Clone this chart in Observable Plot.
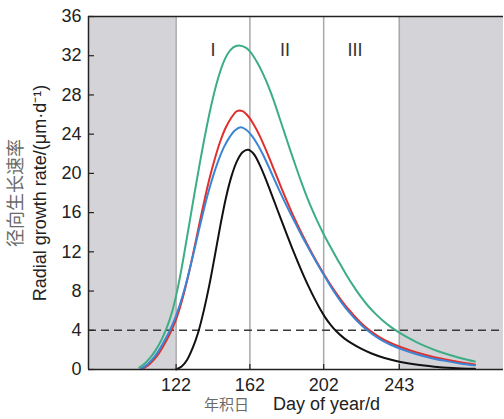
<!DOCTYPE html>
<html>
<head>
<meta charset="utf-8">
<script src="https://cdn.jsdelivr.net/npm/d3@7"></script>
<script src="https://cdn.jsdelivr.net/npm/@observablehq/plot@0.6"></script>
<style>
  html, body { margin: 0; padding: 0; background: #fff; }
</style>
</head>
<body>
<div id="chart"></div>
<script>
// ---- data ----
const xDomain = [74.5, 299.5];
const yDomain = [0, 36];
const yTicks = [0, 4, 8, 12, 16, 20, 24, 28, 32, 36];
const xTicks = [122, 162, 202, 243];
const stageBounds = [122, 162, 202, 243];
const stageNames = ["I", "II", "III"];
const stageLabelDays = [142, 181, 219];
const threshold = 4;

const seriesNames = ["s1", "s2", "s3", "s4"];
const seriesColors = ["#3dae84", "#e0302e", "#3a85d5", "#111111"];

const greenDays = [102,105,108,111,114,117,120,123,126,129,132,135,138,141,144,147,150,153,156,160,163,166,169,172,175,178,181,184,187,190,193,196,199,202,206,210,214,218,222,226,230,234,238,242,246,252,258,264,270,277,284];
const greenVals = [0.2,0.6,1.2,2.0,3.0,4.3,6.0,8.4,11.4,14.7,18.0,21.2,24.2,26.9,29.2,31.0,32.2,32.85,33.05,32.8,32.2,31.3,30.2,28.9,27.4,25.7,24.0,22.3,20.65,19.05,17.55,16.2,14.95,13.8,12.4,11.05,9.75,8.55,7.45,6.5,5.7,5.0,4.4,3.88,3.42,2.82,2.3,1.86,1.5,1.13,0.82];

const redDays = [104,107,110,113,116,119,122,125,128,131,134,137,140,143,146,149,152,155,158,161,164,167,170,173,176,179,182,185,188,191,194,197,200,203,206,210,214,218,222,226,232,238,244,252,260,268,276,284];
const redVals = [0.1,0.45,1.0,1.75,2.7,3.8,5.1,6.9,9.1,11.6,14.3,16.95,19.4,21.5,23.3,24.7,25.7,26.35,26.35,25.85,25.0,23.95,22.7,21.35,19.95,18.55,17.2,15.9,14.7,13.55,12.45,11.4,10.4,9.45,8.55,7.45,6.45,5.6,4.8,4.12,3.33,2.73,2.27,1.76,1.35,1.02,0.73,0.5];

const blueDays = [103,106,109,112,115,118,121,124,127,130,133,136,139,142,145,148,151,154,157,160,163,166,169,172,175,178,181,184,187,190,193,196,199,202,205,208,212,216,220,226,232,238,244,252,260,268,276,284];
const blueVals = [0.1,0.45,1.0,1.75,2.7,3.75,5.0,6.6,8.5,10.7,13.1,15.5,17.75,19.7,21.35,22.7,23.7,24.4,24.7,24.45,23.85,23.0,21.95,20.75,19.5,18.25,17.05,15.9,14.8,13.7,12.65,11.63,10.63,9.68,8.72,7.83,6.75,5.8,4.98,3.95,3.15,2.55,2.08,1.58,1.18,0.88,0.62,0.42];

const blackDays = [122,125,128,131,134,137,140,143,146,149,152,155,158,161,164,167,170,173,176,179,182,185,188,191,194,197,200,203,206,209,213,217,222,228,235,243,252,262,272,284];
const blackVals = [0,0.3,1.0,2.2,3.8,6.0,8.6,11.6,14.7,17.5,19.7,21.25,22.15,22.4,22.0,21.0,19.7,18.25,16.75,15.25,13.77,12.33,10.95,9.63,8.4,7.25,6.2,5.27,4.5,3.87,3.2,2.68,2.15,1.63,1.17,0.8,0.5,0.29,0.16,0.07];

const yTitleZh = "径向生长速率";
const yTitleEn = "Radial growth rate/(μm·d⁻¹)";
const xTitleZh = "年积日";
const xTitleEn = "Day of year/d";

// ---- build tables ----
const rows = [];
function addSeries(name, days, vals) {
  days.forEach((d, i) => rows.push({series: name, day: d, rate: vals[i]}));
}
addSeries("s1", greenDays, greenVals);
addSeries("s2", redDays, redVals);
addSeries("s3", blueDays, blueVals);
addSeries("s4", blackDays, blackVals);

const shade = [
  {start: xDomain[0], end: stageBounds[0]},
  {start: stageBounds[stageBounds.length - 1], end: xDomain[1]}
];
const stageLabels = stageNames.map((n, i) => ({name: n, day: stageLabelDays[i]}));

const W = 504, H = 419;
const mL = 88, mR = 1, mT = 16, mB = 50;
const plotW = W - mL - mR, plotH = H - mT - mB;

const cjk = "'Noto Sans CJK SC', sans-serif";
const latin = "'Liberation Sans', Arial, Helvetica, sans-serif";

const chart = Plot.plot({
  width: W,
  height: H,
  marginLeft: mL,
  marginRight: mR,
  marginTop: mT,
  marginBottom: mB,
  style: {fontFamily: latin, fontSize: "18px", color: "#222", background: "#fff", overflow: "visible"},
  x: {domain: xDomain, ticks: xTicks, tickSize: 0, tickPadding: 9, label: null},
  y: {domain: yDomain, ticks: yTicks, tickSize: 0, tickPadding: 7, label: null},
  color: {domain: seriesNames, range: seriesColors},
  marks: [
    Plot.rect(shade, {x1: "start", x2: "end", fill: "#d4d3d7"}),
    Plot.ruleX(stageBounds, {stroke: "#a8a8a8", strokeWidth: 1.5}),
    Plot.ruleY([threshold], {stroke: "#3a3a3a", strokeWidth: 1.6, strokeDasharray: "8,5"}),
    Plot.line(rows, {x: "day", y: "rate", z: "series", stroke: "series", strokeWidth: 2, curve: "catmull-rom"}),
    Plot.tickY(yTicks, {y: d => d, insetRight: plotW - 6, stroke: "#222", strokeWidth: 1.2}),
    Plot.tickX(xTicks, {x: d => d, insetTop: plotH - 5, stroke: "#222", strokeWidth: 1.2}),
    Plot.ruleX([xDomain[0]], {stroke: "#222", strokeWidth: 1.5}),
    Plot.ruleY([yDomain[0], yDomain[1]], {stroke: "#222", strokeWidth: 1.5}),
    Plot.text(stageLabels, {x: "day", text: "name", frameAnchor: "top", dy: 27, fontSize: 18, fill: "#333"}),
    Plot.text([yTitleEn], {frameAnchor: "left", textAnchor: "middle", rotate: -90, dx: -48, fontSize: 18, fill: "#222"}),
    Plot.text([yTitleZh], {frameAnchor: "left", textAnchor: "middle", rotate: -90, dx: -72, fontSize: 18, fill: "#6a6a6a", fontFamily: cjk}),
    Plot.text([xTitleZh], {frameAnchor: "bottom", dy: 40, dx: -47, textAnchor: "end", fontSize: 15, fill: "#6a6a6a", fontFamily: cjk}),
    Plot.text([xTitleEn], {frameAnchor: "bottom", dy: 40, dx: -23, textAnchor: "start", fontSize: 18, fill: "#222"})
  ]
});
document.getElementById("chart").appendChild(chart);
</script>
</body>
</html>
